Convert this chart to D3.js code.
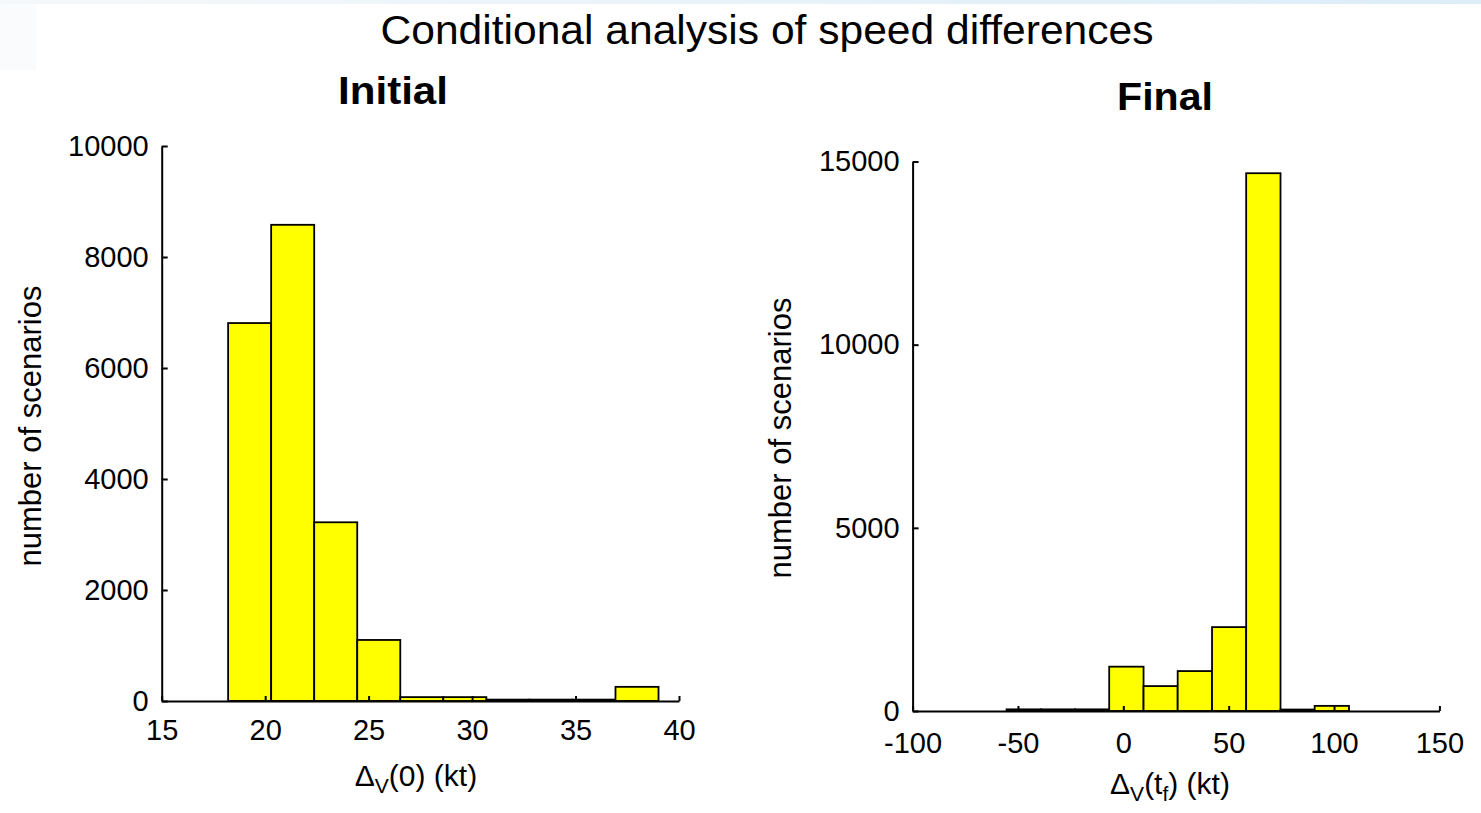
<!DOCTYPE html>
<html>
<head>
<meta charset="utf-8">
<script src="https://cdn.jsdelivr.net/npm/d3@7"></script>
<style>
  html, body { margin: 0; padding: 0; background: #ffffff; }
  svg { display: block; }
  text { font-family: "Liberation Sans", Arial, Helvetica, sans-serif; fill: #000; }
</style>
</head>
<body>
<svg id="chart" width="1481" height="813"></svg>
<script>
// ---- data ----
const chartTitle = "Conditional analysis of speed differences";
const leftTitle = "Initial";
const rightTitle = "Final";
const yLabel = "number of scenarios";

// Left histogram: Δv(0) bin edges and counts
const leftEdges = [18.21, 20.29, 22.37, 24.45, 26.53, 28.61, 30.69, 32.77, 34.85, 36.93, 39.01];
const leftCounts = [6810, 8580, 3220, 1100, 70, 70, 25, 25, 25, 255];
const leftXTicks = [15, 20, 25, 30, 35, 40];
const leftYTicks = [0, 2000, 4000, 6000, 8000, 10000];

// Right histogram: Δv(tf) bin edges and counts
const rightEdges = [-55.4, -39.2, -22.9, -6.7, 9.6, 25.8, 42.1, 58.3, 74.6, 90.8, 107.1];
const rightCounts = [45, 45, 45, 1210, 680, 1090, 2290, 14680, 40, 140];
const rightXTicks = [-100, -50, 0, 50, 100, 150];
const rightYTicks = [0, 5000, 10000, 15000];

const svg = d3.select("#chart");

// faint slide background decoration
const defs = svg.append("defs");
const grad = defs.append("linearGradient").attr("id", "topband").attr("x1", "0").attr("x2", "1");
grad.append("stop").attr("offset", "0").attr("stop-color", "#f5f8fa");
grad.append("stop").attr("offset", "1").attr("stop-color", "#dcedf8");
svg.append("rect").attr("x", 0).attr("y", 0).attr("width", 1481).attr("height", 4).attr("fill", "url(#topband)");
svg.append("rect").attr("x", 0).attr("y", 4).attr("width", 36).attr("height", 66).attr("fill", "#f9fbfc");

// main title
svg.append("text")
  .attr("x", 767).attr("y", 44)
  .attr("text-anchor", "middle")
  .attr("font-size", 41)
  .attr("textLength", 773).attr("lengthAdjust", "spacingAndGlyphs")
  .text(chartTitle);

function drawHist(cfg) {
  const x = d3.scaleLinear().domain(cfg.xDomain).range(cfg.xRange);
  const y = d3.scaleLinear().domain(cfg.yDomain).range(cfg.yRange);
  const g = svg.append("g");

  const bins = cfg.counts.map((c, i) => ({ x0: cfg.edges[i], x1: cfg.edges[i + 1], c }));

  g.selectAll("rect.bar").data(bins).enter().append("rect")
    .attr("class", "bar")
    .attr("x", d => x(d.x0))
    .attr("width", d => x(d.x1) - x(d.x0))
    .attr("y", d => y(d.c))
    .attr("height", d => y(0) - y(d.c))
    .attr("fill", "#ffff00")
    .attr("stroke", "#000")
    .attr("stroke-width", 1.8);

  const fmt = d => String(d);
  const xAxis = d3.axisBottom(x).tickValues(cfg.xTicks).tickSizeInner(-5).tickSizeOuter(0).tickPadding(cfg.xPad).tickFormat(fmt);
  const yAxis = d3.axisLeft(y).tickValues(cfg.yTicks).tickSizeInner(-6).tickSizeOuter(0).tickPadding(13).tickFormat(fmt);

  const gx = g.append("g").attr("transform", `translate(0,${cfg.yRange[0]})`).call(xAxis);
  const gy = g.append("g").attr("transform", `translate(${cfg.xRange[0]},0)`).call(yAxis);
  [gx, gy].forEach(ax => {
    ax.select(".domain").attr("stroke", "#000").attr("stroke-width", 2);
    ax.selectAll(".tick line").attr("stroke", "#000").attr("stroke-width", 2);
    ax.selectAll(".tick text").attr("font-size", 29).attr("font-family", "'Liberation Sans', Arial, sans-serif").attr("fill", "#111");
  });

  // subplot title
  g.append("text")
    .attr("x", cfg.titleX).attr("y", cfg.titleY)
    .attr("text-anchor", "middle")
    .attr("font-size", 38).attr("font-weight", "bold")
    .attr("textLength", cfg.titleLen).attr("lengthAdjust", "spacingAndGlyphs")
    .text(cfg.title);

  // y label
  g.append("text")
    .attr("transform", `translate(${cfg.yLabX},${cfg.yLabY}) rotate(-90)`)
    .attr("text-anchor", "middle")
    .attr("font-size", 31)
    .attr("fill", "#111")
    .text(yLabel);

  // x label with subscript
  const xl = g.append("text")
    .attr("x", cfg.xLabX).attr("y", cfg.xLabY)
    .attr("text-anchor", "middle")
    .attr("font-size", 30)
    .attr("fill", "#111");
  xl.append("tspan").text("\u0394");
  xl.append("tspan").attr("font-size", 21).attr("dy", 7).text("V");
  if (cfg.sub) {
    xl.append("tspan").attr("dy", -7).text("(t");
    xl.append("tspan").attr("font-size", 21).attr("dy", 7).text(cfg.sub);
    xl.append("tspan").attr("dy", -7).text(") (kt)");
  } else {
    xl.append("tspan").attr("dy", -7).text("(0) (kt)");
  }
}

drawHist({
  edges: leftEdges, counts: leftCounts,
  xDomain: [15, 40], xRange: [161.7, 679],
  yDomain: [0, 10000], yRange: [701, 146],
  xTicks: leftXTicks, yTicks: leftYTicks, xPad: 18,
  title: leftTitle, titleX: 393, titleY: 104, titleLen: 110,
  yLabX: 41, yLabY: 426,
  xLabX: 416, xLabY: 786, sub: null
});

drawHist({
  edges: rightEdges, counts: rightCounts,
  xDomain: [-100, 150], xRange: [912.6, 1439.4],
  yDomain: [0, 15000], yRange: [711, 161.5],
  xTicks: rightXTicks, yTicks: rightYTicks, xPad: 21,
  title: rightTitle, titleX: 1165, titleY: 110, titleLen: 96,
  yLabX: 791, yLabY: 438,
  xLabX: 1170, xLabY: 794, sub: "f"
});
</script>
</body>
</html>
